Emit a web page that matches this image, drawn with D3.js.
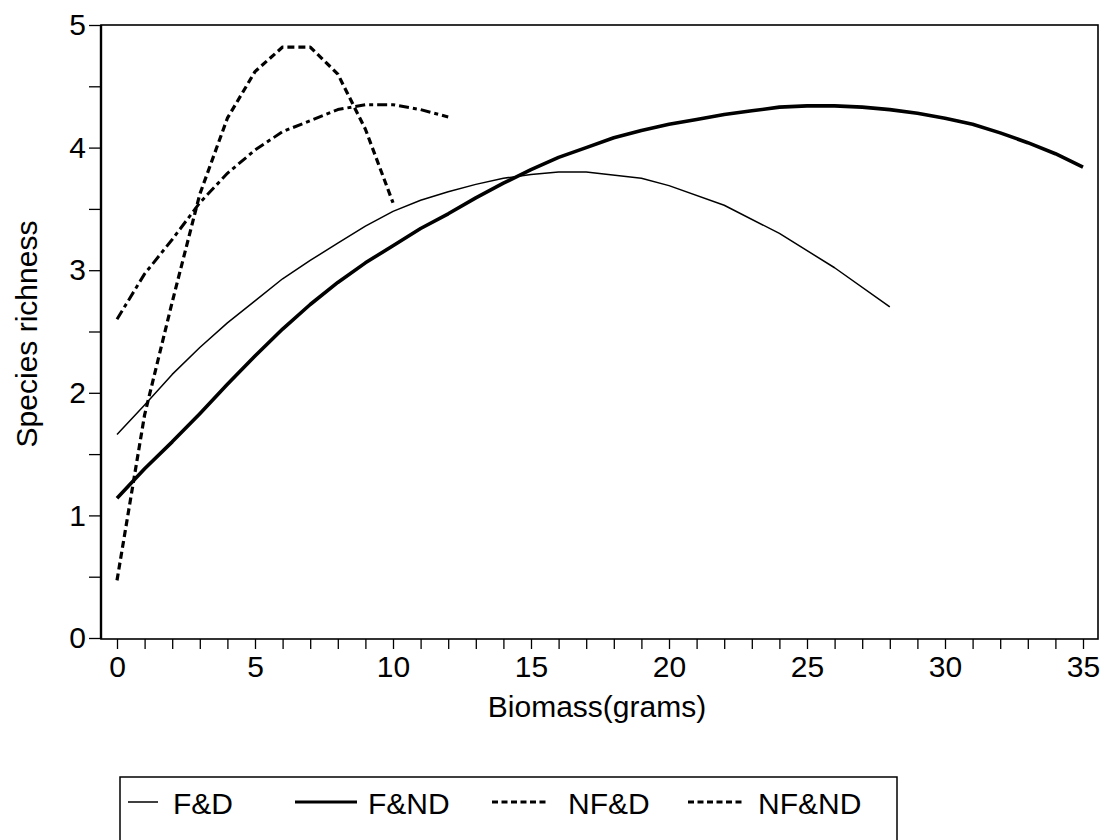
<!DOCTYPE html>
<html>
<head>
<meta charset="utf-8">
<script src="https://cdn.jsdelivr.net/npm/d3@7"></script>
<style>
  html, body { margin: 0; padding: 0; background: #fff; }
  svg { display: block; }
  text { font-family: "Liberation Sans", Arial, Helvetica, sans-serif; fill: #000; }
</style>
</head>
<body>
<svg id="chart" width="1106" height="840"></svg>
<script>
// Species richness vs. biomass for four treatments
const seriesNames = ["F&D", "F&ND", "NF&D", "NF&ND"];

const fdX = [0, 1, 2, 3, 4, 5, 6, 7, 8, 9, 10, 11, 12, 13, 14, 15, 16, 17, 19, 20, 22, 24, 26, 28];
const fdY = [1.66, 1.9, 2.15, 2.37, 2.57, 2.75, 2.93, 3.08, 3.22, 3.36, 3.48, 3.57, 3.64, 3.7, 3.75, 3.78, 3.8, 3.8, 3.75, 3.69, 3.53, 3.3, 3.02, 2.7];

const fndX = [0, 1, 2, 3, 4, 5, 6, 7, 8, 9, 10, 11, 12, 13, 14, 15, 16, 17, 18, 19, 20, 21, 22, 23, 24, 25, 26, 27, 28, 29, 30, 31, 32, 33, 34, 35];
const fndY = [1.14, 1.38, 1.6, 1.83, 2.07, 2.3, 2.52, 2.72, 2.9, 3.06, 3.2, 3.34, 3.46, 3.59, 3.71, 3.82, 3.92, 4.0, 4.08, 4.14, 4.19, 4.23, 4.27, 4.3, 4.33, 4.34, 4.34, 4.33, 4.31, 4.28, 4.24, 4.19, 4.12, 4.04, 3.95, 3.84];

const nfdX = [0, 1, 2, 3, 4, 5, 6, 7, 8, 9, 10];
const nfdY = [0.47, 1.82, 2.74, 3.62, 4.24, 4.62, 4.82, 4.82, 4.6, 4.15, 3.55];

const nfndX = [0, 1, 2, 3, 4, 5, 6, 7, 8, 9, 10, 11, 12];
const nfndY = [2.6, 2.97, 3.25, 3.55, 3.79, 3.98, 4.13, 4.22, 4.31, 4.35, 4.35, 4.31, 4.25];

const xMajorTicks = [0, 5, 10, 15, 20, 25, 30, 35];
const yMajorTicks = [0, 1, 2, 3, 4, 5];
const xTitle = "Biomass(grams)";
const yTitle = "Species richness";

// ---- layout ----
const frame = { left: 101, right: 1098, top: 25, bottom: 639 };
const svg = d3.select("#chart");

const x = d3.scaleLinear().domain([0, 35]).range([117, 1083]);
const y = d3.scaleLinear().domain([0, 5]).range([638, 25]);

// plot frame
svg.append("rect")
  .attr("x", frame.left).attr("y", frame.top)
  .attr("width", frame.right - frame.left).attr("height", frame.bottom - frame.top)
  .attr("fill", "none").attr("stroke", "#000").attr("stroke-width", 1.6);

// x axis: unit minor ticks, labels every 5
const xAxis = d3.axisBottom(x)
  .tickValues(d3.range(0, 36, 1))
  .tickSize(10).tickPadding(7)
  .tickFormat(d => xMajorTicks.includes(d) ? d : "");
const gx = svg.append("g").attr("transform", `translate(0,${frame.bottom})`).call(xAxis);
gx.select(".domain").remove();
gx.selectAll("line").attr("stroke", "#000").attr("stroke-width", 1.3);
gx.selectAll("text").attr("font-size", 30).attr("font-family", "Liberation Sans, Arial, sans-serif");

// y axis: half-unit minor ticks, labels on integers
const yAxis = d3.axisLeft(y)
  .tickValues(d3.range(0, 5.01, 0.5))
  .tickSize(12).tickPadding(3)
  .tickFormat(d => yMajorTicks.includes(d) ? d : "");
const gy = svg.append("g").attr("transform", `translate(${frame.left},0)`).call(yAxis);
gy.select(".domain").remove();
gy.selectAll("line").attr("stroke", "#000").attr("stroke-width", 1.3);
gy.selectAll("text").attr("font-size", 30).attr("font-family", "Liberation Sans, Arial, sans-serif");

// left axis line drawn heavier
svg.append("line")
  .attr("x1", frame.left).attr("x2", frame.left)
  .attr("y1", frame.top).attr("y2", frame.bottom)
  .attr("stroke", "#000").attr("stroke-width", 2.4);

// axis titles
svg.append("text")
  .attr("x", 597).attr("y", 717)
  .attr("text-anchor", "middle").attr("font-size", 30)
  .text(xTitle);
svg.append("text")
  .attr("transform", "translate(37,334) rotate(-90)")
  .attr("text-anchor", "middle").attr("font-size", 30)
  .text(yTitle);

// ---- series ----
const styles = {
  "F&D":   { width: 1.5, dash: null },
  "F&ND":  { width: 3.6, dash: null },
  "NF&D":  { width: 3.2, dash: "7,4" },
  "NF&ND": { width: 3.0, dash: "10,4,4,4" }
};
const seriesData = [
  { name: "F&D",   xs: fdX,   ys: fdY },
  { name: "F&ND",  xs: fndX,  ys: fndY },
  { name: "NF&D",  xs: nfdX,  ys: nfdY },
  { name: "NF&ND", xs: nfndX, ys: nfndY }
];

const line = d3.line().x(d => x(d[0])).y(d => y(d[1])).curve(d3.curveLinear);

seriesData.forEach(s => {
  const pts = s.xs.map((v, i) => [v, s.ys[i]]);
  const st = styles[s.name];
  svg.append("path")
    .datum(pts)
    .attr("d", line)
    .attr("fill", "none")
    .attr("stroke", "#000")
    .attr("stroke-width", st.width)
    .attr("stroke-linejoin", "round")
    .attr("stroke-dasharray", st.dash);
});

// ---- legend ----
const legend = svg.append("g");
legend.append("rect")
  .attr("x", 120).attr("y", 777)
  .attr("width", 777).attr("height", 90)
  .attr("fill", "none").attr("stroke", "#000").attr("stroke-width", 1.5);

const legendItems = [
  { name: seriesNames[0], x1: 128, x2: 158, tx: 173 },
  { name: seriesNames[1], x1: 295, x2: 357, tx: 368 },
  { name: seriesNames[2], x1: 492, x2: 548, tx: 568 },
  { name: seriesNames[3], x1: 688, x2: 745, tx: 758 }
];
const legendDash = { "F&D": null, "F&ND": null, "NF&D": "6,3.5", "NF&ND": "6,3.5" };
legendItems.forEach(it => {
  const st = styles[it.name];
  legend.append("line")
    .attr("x1", it.x1).attr("x2", it.x2)
    .attr("y1", 802).attr("y2", 802)
    .attr("stroke", "#000")
    .attr("stroke-width", Math.min(st.width, 3))
    .attr("stroke-dasharray", legendDash[it.name]);
  legend.append("text")
    .attr("x", it.tx).attr("y", 814)
    .attr("font-size", 30)
    .text(it.name);
});
</script>
</body>
</html>
